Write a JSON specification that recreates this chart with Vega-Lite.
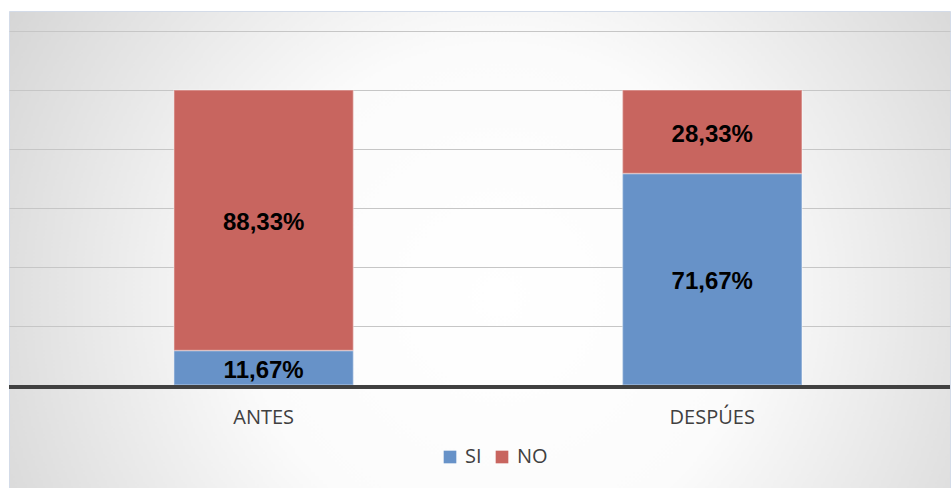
{
  "$schema": "https://vega.github.io/schema/vega-lite/v6.json",
  "width": 952,
  "height": 488,
  "autosize": {"type": "fit", "contains": "padding"},
  "padding": {"left": 7, "top": 11, "right": 0, "bottom": 0},
  "background": "#ffffff",
  "config": {
    "locale": {
      "number": {"decimal": ",", "thousands": ".", "grouping": [3], "currency": ["", " €"]}
    },
    "view": {
      "stroke": "#d3dbe8",
      "strokeWidth": 1,
      "fill": {
        "gradient": "radial",
        "x1": 0.52, "y1": 0.55, "r1": 0,
        "x2": 0.52, "y2": 0.55, "r2": 0.76,
        "stops": [
          {"offset": 0, "color": "#ffffff"},
          {"offset": 0.35, "color": "#fbfbfb"},
          {"offset": 1, "color": "#c4c4c4"}
        ]
      }
    }
  },
  "data": {
    "values": [
      {"momento": "ANTES", "respuesta": "SI", "valor": 0.1167, "orden": 1},
      {"momento": "ANTES", "respuesta": "NO", "valor": 0.8833, "orden": 2},
      {"momento": "DESPÚES", "respuesta": "SI", "valor": 0.7167, "orden": 1},
      {"momento": "DESPÚES", "respuesta": "NO", "valor": 0.2833, "orden": 2}
    ]
  },
  "layer": [
    {
      "mark": {"type": "bar", "stroke": "#ffffff", "strokeOpacity": 0.35, "strokeWidth": 1.5},
      "encoding": {
        "x": {
          "field": "momento",
          "type": "nominal",
          "sort": ["ANTES", "DESPÚES"],
          "scale": {"paddingInner": 0.6, "paddingOuter": 0.3488, "align": 0.527},
          "axis": {
            "title": null,
            "labelAngle": 0,
            "domain": false,
            "ticks": false,
            "offset": -103,
            "labelPadding": 22,
            "labelFont": "Open Sans",
            "labelFontSize": 20,
            "labelColor": "#404040"
          }
        },
        "y": {
          "field": "valor",
          "type": "quantitative",
          "stack": "zero",
          "scale": {"domain": [-0.3492, 1.2678], "nice": false, "zero": false},
          "axis": {
            "title": null,
            "values": [0.2, 0.4, 0.6, 0.8, 1, 1.2],
            "grid": true,
            "gridColor": "#c6c6c6",
            "gridWidth": 1,
            "labels": false,
            "ticks": false,
            "domain": false
          }
        },
        "color": {
          "field": "respuesta",
          "type": "nominal",
          "scale": {"domain": ["SI", "NO"], "range": ["#6792c8", "#c8655f"]},
          "legend": {
            "title": null,
            "orient": "none",
            "direction": "horizontal",
            "legendX": 431,
            "legendY": 436,
            "symbolType": "square",
            "symbolSize": 160,
            "symbolStrokeWidth": 0,
            "labelFont": "Open Sans",
            "labelFontSize": 20,
            "labelColor": "#404040",
            "labelOffset": 5,
            "columnPadding": 10
          }
        },
        "order": {"field": "orden", "type": "quantitative"}
      }
    },
    {
      "mark": {"type": "rule", "color": "#404040", "strokeWidth": 3.5, "yOffset": 2},
      "encoding": {"y": {"datum": 0}}
    },
    {
      "mark": {"type": "text", "font": "Liberation Sans", "fontWeight": "bold", "fontSize": 24, "color": "#000000", "dy": 3},
      "encoding": {
        "x": {"field": "momento", "type": "nominal", "sort": ["ANTES", "DESPÚES"]},
        "y": {"field": "valor", "type": "quantitative", "stack": "zero", "bandPosition": 0.5},
        "detail": {"field": "respuesta"},
        "order": {"field": "orden", "type": "quantitative"},
        "text": {"field": "valor", "type": "quantitative", "format": ".2%"}
      }
    }
  ]
}
